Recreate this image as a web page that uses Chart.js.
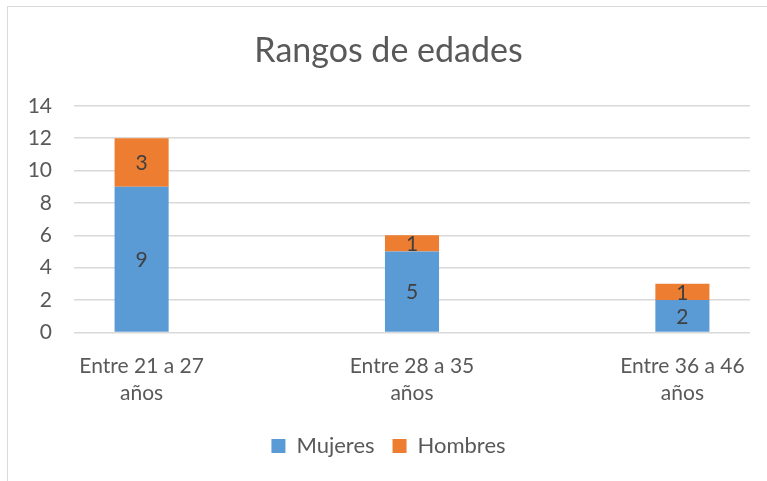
<!DOCTYPE html>
<html lang="es">
<head>
    <meta charset="UTF-8">
    <title>Rangos de edades</title>
    <script src="https://cdn.jsdelivr.net/npm/chart.js"></script>
    <style>
        html, body {
            margin: 0;
            padding: 0;
            background: #ffffff;
        }

        .chart-container {
            width: 767px;
            height: 481px;
            position: relative;
        }
    </style>
</head>
<body>
    <div class="chart-container">
        <canvas id="edades-chart"></canvas>
    </div>

    <script>
        // Datos del gráfico
        const categorias = [
            ['Entre 21 a 27', 'años'],
            ['Entre 28 a 35', 'años'],
            ['Entre 36 a 46', 'años']
        ];
        const mujeres = [9, 5, 2];
        const hombres = [3, 1, 1];
        const yTicks = [0, 2, 4, 6, 8, 10, 12, 14];

        const textColor = '#595959';
        const fontFamily = 'Lato, "Open Sans", sans-serif';

        // Marco gris claro alrededor del gráfico
        const framePlugin = {
            id: 'frame',
            beforeDraw(chart) {
                const ctx = chart.ctx;
                ctx.save();
                ctx.strokeStyle = '#d9d9d9';
                ctx.lineWidth = 1;
                ctx.strokeRect(7.5, 6.5, 900, 600);
                ctx.restore();
            }
        };

        // Etiquetas de valor centradas en cada segmento
        const valueLabels = {
            id: 'valueLabels',
            afterDatasetsDraw(chart) {
                const ctx = chart.ctx;
                ctx.save();
                ctx.font = '21px ' + fontFamily;
                ctx.fillStyle = '#404040';
                ctx.textAlign = 'center';
                ctx.textBaseline = 'middle';
                chart.data.datasets.forEach((ds, i) => {
                    const meta = chart.getDatasetMeta(i);
                    meta.data.forEach((bar, j) => {
                        const cy = (bar.y + bar.base) / 2;
                        ctx.fillText(String(ds.data[j].y), bar.x, cy + 1);
                    });
                });
                ctx.restore();
            }
        };

        function toPoints(values) {
            return values.map((v, i) => ({ x: i, y: v }));
        }

        const ctx = document.getElementById('edades-chart').getContext('2d');
        const chart = new Chart(ctx, {
            type: 'bar',
            data: {
                datasets: [{
                    label: 'Mujeres',
                    data: toPoints(mujeres),
                    backgroundColor: '#5b9bd5',
                    borderWidth: 0
                }, {
                    label: 'Hombres',
                    data: toPoints(hombres),
                    backgroundColor: '#ed7d31',
                    borderWidth: 0
                }]
            },
            plugins: [framePlugin, valueLabels],
            options: {
                responsive: true,
                maintainAspectRatio: false,
                animation: false,
                datasets: {
                    bar: {
                        barPercentage: 0.2,
                        categoryPercentage: 1
                    }
                },
                layout: {
                    padding: { left: 27, right: 17, top: 31, bottom: 14 }
                },
                plugins: {
                    title: {
                        display: true,
                        text: 'Rangos de edades',
                        color: textColor,
                        font: { family: fontFamily, size: 34, weight: 'normal' },
                        padding: { top: 0, bottom: 34 }
                    },
                    legend: {
                        position: 'bottom',
                        labels: {
                            color: textColor,
                            font: { family: fontFamily, size: 22 },
                            boxWidth: 14,
                            boxHeight: 14,
                            padding: 18
                        }
                    },
                    tooltip: { enabled: false }
                },
                scales: {
                    x: {
                        type: 'linear',
                        stacked: true,
                        offset: false,
                        min: -0.25,
                        max: 2.25,
                        afterFit: (scale) => { scale.height -= 2; },
                        grid: { display: false },
                        border: { display: false },
                        ticks: {
                            stepSize: 1,
                            includeBounds: false,
                            autoSkip: false,
                            maxRotation: 0,
                            color: textColor,
                            font: { family: fontFamily, size: 21, lineHeight: 1.3 },
                            padding: 12,
                            callback: (v) => categorias[v] || ''
                        }
                    },
                    y: {
                        stacked: true,
                        min: yTicks[0],
                        max: yTicks[yTicks.length - 1],
                        afterFit: (scale) => { scale.width = 47; },
                        grid: {
                            color: '#d9d9d9',
                            lineWidth: 1.5,
                            drawTicks: false
                        },
                        border: { display: false },
                        ticks: {
                            stepSize: 2,
                            color: textColor,
                            font: { family: fontFamily, size: 21 },
                            padding: 22
                        }
                    }
                }
            }
        });
    </script>
</body>
</html>
